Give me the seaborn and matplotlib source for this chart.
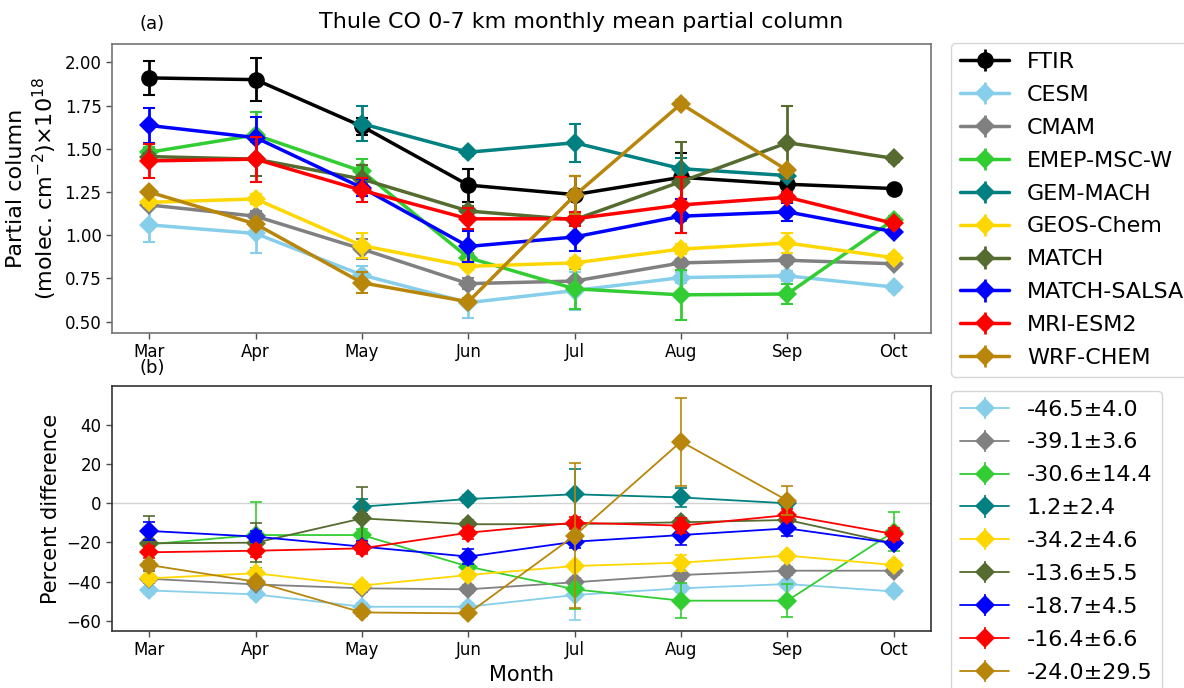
import numpy as np
import pandas as pd
import matplotlib
matplotlib.use("Agg")
import matplotlib.pyplot as plt
import seaborn as sns

months = ["Mar", "Apr", "May", "Jun", "Jul", "Aug", "Sep", "Oct"]
models = ["FTIR", "CESM", "CMAM", "EMEP-MSC-W", "GEM-MACH", "GEOS-Chem",
          "MATCH", "MATCH-SALSA", "MRI-ESM2", "WRF-CHEM"]
colors = ["black", "skyblue", "gray", "limegreen", "teal", "gold",
          "darkolivegreen", "blue", "red", "darkgoldenrod"]
nan = np.nan

# (a) partial column values (x 1e18 molec/cm2) and errors
ftir_pc = [1.91, 1.90, 1.63, 1.29, 1.235, 1.335, 1.295, 1.27]
ftir_pc_err = [0.10, 0.125, 0.05, 0.095, 0.11, 0.14, 0.03, 0.0]
cesm_pc = [1.06, 1.01, 0.77, 0.61, 0.68, 0.755, 0.765, 0.70]
cesm_pc_err = [0.10, 0.11, 0.05, 0.09, 0.11, 0.03, 0.03, 0.02]
cmam_pc = [1.175, 1.11, 0.92, 0.72, 0.735, 0.84, 0.855, 0.835]
cmam_pc_err = [0.02, 0.03, 0.06, 0.03, 0.02, 0.02, 0.02, 0.02]
emep_pc = [1.48, 1.58, 1.37, 0.87, 0.69, 0.655, 0.66, 1.09]
emep_pc_err = [0.03, 0.13, 0.07, 0.03, 0.115, 0.145, 0.06, 0.02]
gem_pc = [nan, nan, 1.645, 1.48, 1.535, 1.385, 1.345, nan]
gem_pc_err = [nan, nan, 0.10, 0.02, 0.11, 0.06, 0.02, nan]
geos_pc = [1.19, 1.21, 0.94, 0.82, 0.84, 0.92, 0.955, 0.87]
geos_pc_err = [0.02, 0.03, 0.07, 0.02, 0.03, 0.03, 0.06, 0.02]
match_pc = [1.455, 1.44, 1.325, 1.14, 1.09, 1.31, 1.535, 1.445]
match_pc_err = [0.02, 0.10, 0.08, 0.03, 0.03, 0.23, 0.21, 0.02]
salsa_pc = [1.635, 1.565, 1.275, 0.935, 0.99, 1.11, 1.135, 1.02]
salsa_pc_err = [0.10, 0.12, 0.05, 0.09, 0.08, 0.10, 0.05, 0.02]
mri_pc = [1.43, 1.44, 1.26, 1.095, 1.095, 1.175, 1.22, 1.068]
mri_pc_err = [0.10, 0.13, 0.07, 0.06, 0.04, 0.16, 0.03, 0.02]
wrf_pc = [1.25, 1.065, 0.725, 0.615, 1.23, 1.76, 1.375, nan]
wrf_pc_err = [0.02, 0.02, 0.06, 0.02, 0.11, 0.02, 0.02, nan]

# (b) percent differences vs FTIR and errors
cesm_pd = [-44.5, -46.5, -52.8, -52.8, -46.8, -43.4, -41.2, -45.0]
cesm_pd_err = [2, 2, 2, 2, 13, 2, 2, 2]
cmam_pd = [-38.5, -41.4, -43.4, -43.9, -40.3, -36.6, -34.4, -34.4]
cmam_pd_err = [2, 2, 2, 2, 2, 2, 2, 2]
emep_pd = [-20.9, -16.2, -16.2, -32.3, -43.9, -49.7, -49.7, -14.5]
emep_pd_err = [2, 17, 3, 3, 10, 9, 8.5, 10]
gem_pd = [nan, nan, -1.7, 2.2, 4.6, 3.0, 0.0, nan]
gem_pd_err = [nan, nan, 4, 2, 13, 5, 2, nan]
geos_pd = [-38.3, -35.7, -42.0, -36.6, -32.0, -30.3, -26.7, -31.5]
geos_pd_err = [2, 2, 2, 2, 2, 4, 2, 2]
match_pd = [-20.4, -20.1, -7.7, -10.7, -10.6, -9.7, -8.5, -20.4]
match_pd_err = [14, 10, 16, 2, 2, 2, 2, 2]
salsa_pd = [-14.1, -17.0, -22.1, -27.2, -19.6, -16.2, -12.8, -20.4]
salsa_pd_err = [4.7, 3, 3, 4, 3, 5, 4, 2]
mri_pd = [-25.0, -24.2, -23.0, -15.0, -9.9, -11.4, -6.0, -15.7]
mri_pd_err = [3, 3, 3, 3, 3, 4, 3, 3]
wrf_pd = [-31.5, -40.0, -55.7, -56.2, -16.5, 31.5, 1.4, nan]
wrf_pd_err = [2, 2, 2, 2, 37, 22.5, 7.6, nan]

pd_labels = ["-46.5±4.0", "-39.1±3.6", "-30.6±14.4", "1.2±2.4", "-34.2±4.6",
             "-13.6±5.5", "-18.7±4.5", "-16.4±6.6", "-24.0±29.5"]

pc_series = [ftir_pc, cesm_pc, cmam_pc, emep_pc, gem_pc, geos_pc,
             match_pc, salsa_pc, mri_pc, wrf_pc]
pc_errs = [ftir_pc_err, cesm_pc_err, cmam_pc_err, emep_pc_err, gem_pc_err,
           geos_pc_err, match_pc_err, salsa_pc_err, mri_pc_err, wrf_pc_err]
pd_series = [cesm_pd, cmam_pd, emep_pd, gem_pd, geos_pd, match_pd,
             salsa_pd, mri_pd, wrf_pd]
pd_errs = [cesm_pd_err, cmam_pd_err, emep_pd_err, gem_pd_err, geos_pd_err,
           match_pd_err, salsa_pd_err, mri_pd_err, wrf_pd_err]

sns.set_style("ticks")
plt.rcParams["font.family"] = ["DejaVu Sans"]
plt.rcParams["text.color"] = "black"
plt.rcParams["axes.labelcolor"] = "black"
plt.rcParams["xtick.color"] = "black"
plt.rcParams["ytick.color"] = "black"

fig = plt.figure(figsize=(11.84, 6.88), dpi=100)
ax1 = fig.add_axes([0.0946, 0.5164, 0.6917, 0.4201])
ax2 = fig.add_axes([0.0946, 0.0828, 0.6917, 0.3562])
xpos = np.arange(len(months))

handles1 = []
for i, (name, col) in enumerate(zip(models, colors)):
    mk = "o" if name == "FTIR" else "D"
    ms = 12 if name == "FTIR" else 10
    df = pd.DataFrame({"x": xpos, "y": pc_series[i]})
    sns.lineplot(data=df, x="x", y="y", ax=ax1, color=col, marker=mk,
                 markersize=ms, markeredgewidth=0, linewidth=2.5,
                 estimator=None, legend=False)
    ax1.errorbar(xpos, pc_series[i], yerr=pc_errs[i], fmt="none",
                 ecolor=col, elinewidth=2, capsize=4, capthick=1.5)
    h = ax1.errorbar([nan], [nan], yerr=[nan], fmt=mk + "-", color=col,
                     ms=ms, mew=0, lw=2.5, elinewidth=2, capsize=4,
                     capthick=1.5, label=name)
    handles1.append(h)

handles2 = []
for j, col in enumerate(colors[1:]):
    df = pd.DataFrame({"x": xpos, "y": pd_series[j]})
    sns.lineplot(data=df, x="x", y="y", ax=ax2, color=col, marker="D",
                 markersize=10.5, markeredgewidth=0, linewidth=1.3,
                 estimator=None, legend=False)
    ax2.errorbar(xpos, pd_series[j], yerr=pd_errs[j], fmt="none",
                 ecolor=col, elinewidth=1.2, capsize=4, capthick=1.2)
    h = ax2.errorbar([nan], [nan], yerr=[nan], fmt="D-", color=col,
                     ms=10.5, mew=0, lw=1.3, elinewidth=1.2, capsize=4,
                     capthick=1.2, label=pd_labels[j])
    handles2.append(h)

ax2.axhline(0, color="lightgray", lw=1, zorder=0)

for ax in (ax1, ax2):
    ax.set_xlim(-0.35, 7.35)
    ax.set_xticks(xpos)
    ax.set_xticklabels(months)
    ax.tick_params(labelsize=12, length=4, width=1, color="0.3",
                   labelcolor="black")
    ax.set_xlabel("")
    for s in ax.spines.values():
        s.set_visible(True)
        s.set_linewidth(1.2)

for s in ax1.spines.values():
    s.set_color("0.45")
for s in ax2.spines.values():
    s.set_color("0.2")

ax1.set_ylim(0.436, 2.108)
ax1.set_yticks([0.5, 0.75, 1.0, 1.25, 1.5, 1.75, 2.0])
ax1.set_yticklabels(["0.50", "0.75", "1.00", "1.25", "1.50", "1.75", "2.00"])
ax1.set_ylabel("Partial column\n(molec. cm$^{-2}$)×10$^{18}$", fontsize=16,
               color="black")
ax2.set_ylim(-65.2, 59.9)
ax2.set_yticks([-60, -40, -20, 0, 20, 40])
ax2.set_ylabel("Percent difference", fontsize=15, color="black")
ax2.set_xlabel("Month", fontsize=15, color="black")

ax1.text(0.049, 1.069, "(a)", transform=ax1.transAxes, fontsize=13,
         ha="center", va="center", color="black")
ax2.text(0.049, 1.073, "(b)", transform=ax2.transAxes, fontsize=13,
         ha="center", va="center", color="black")
fig.text(0.4907, 0.968, "Thule CO 0-7 km monthly mean partial column",
         fontsize=16, ha="center", va="center", color="black")

leg1 = ax1.legend(handles=handles1, loc="upper left",
                  bbox_to_anchor=(1.025, 1.002), borderaxespad=0,
                  fontsize=16, handlelength=2.2, labelspacing=0.58)
leg2 = ax2.legend(handles=handles2, loc="upper left",
                  bbox_to_anchor=(1.025, 0.981), borderaxespad=0,
                  fontsize=16, handlelength=2.2, labelspacing=0.58)
for leg in (leg1, leg2):
    for t in leg.get_texts():
        t.set_color("black")

fig.savefig("out.png", dpi=100)
